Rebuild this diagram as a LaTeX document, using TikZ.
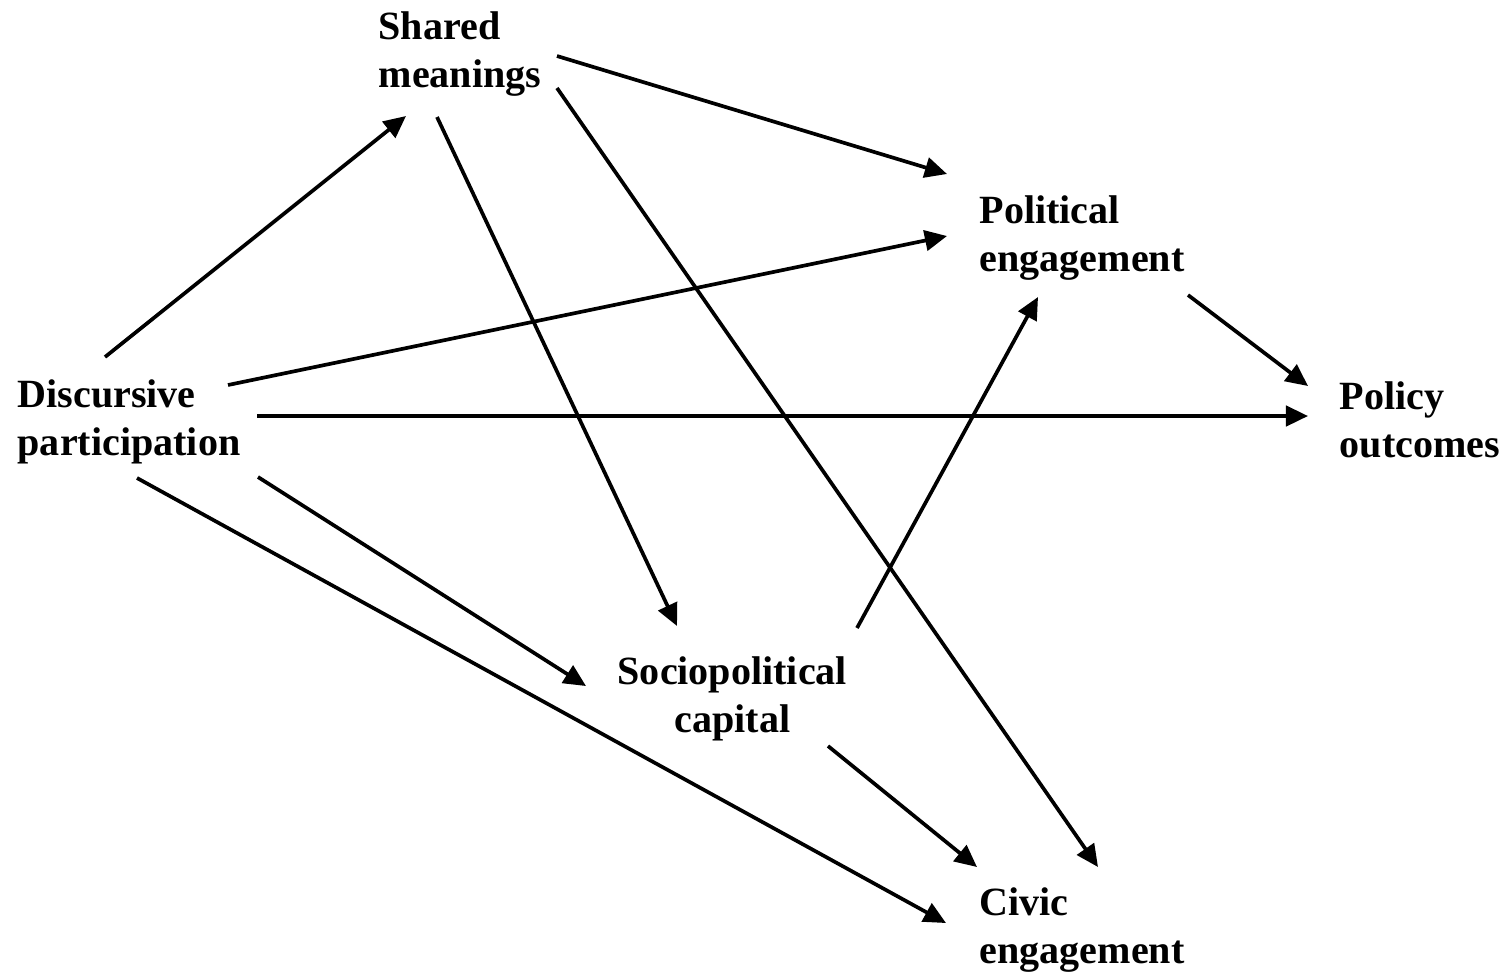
\documentclass[tikz,border=0pt]{standalone}
\usepackage{fontspec}
\setmainfont{Liberation Serif}
\usetikzlibrary{arrows.meta}
\tikzstyle{lbl}=[font=\fontsize{11.4}{13.4}\selectfont\bfseries,align=left,inner sep=0pt,anchor=base west]
\tikzstyle{arr}=[-{Triangle[length=6.3pt,width=5.8pt]},line width=1.05pt]

\begin{document}
\begin{tikzpicture}[x=0.1mm,y=-0.1mm]
\useasboundingbox (0,0) rectangle (1506,974);
% factors (placed at the baseline of the last line)
\node[lbl] (disc) at (17,455) {Discursive\\participation};
\node[lbl] (shared) at (378,87) {Shared\\meanings};
\node[lbl] (polit) at (979,271) {Political\\engagement};
\node[lbl] (policy) at (1339,457) {Policy\\outcomes};
\node[lbl,align=center] (socio) at (617,732) {Sociopolitical\\capital};
\node[lbl] (civic) at (979,963) {Civic\\engagement};
% paths
\draw[arr] ([shift={(88,-98)}]disc.base west) -- ([shift={(28,29)}]shared.base west);
\draw[arr] ([shift={(179,-31)}]shared.base west) -- ([shift={(-32,-97)}]polit.base west);
\draw[arr] ([shift={(59,30)}]shared.base west) -- ([shift={(60,-106)}]socio.base west);
\draw[arr] ([shift={(179,1)}]shared.base west) -- ([shift={(119,-96)}]civic.base west);
\draw[arr] ([shift={(211,-70)}]disc.base west) -- ([shift={(-32,-35)}]polit.base west);
\draw[arr] ([shift={(240,-39)}]disc.base west) -- ([shift={(-31,-41)}]policy.base west);
\draw[arr] ([shift={(241,22)}]disc.base west) -- ([shift={(-31,-46)}]socio.base west);
\draw[arr] ([shift={(120,23)}]disc.base west) -- ([shift={(-33,-40)}]civic.base west);
\draw[arr] ([shift={(209,24)}]polit.base west) -- ([shift={(-31,-71)}]policy.base west);
\draw[arr] ([shift={(240,-104)}]socio.base west) -- ([shift={(59,26)}]polit.base west);
\draw[arr] ([shift={(211,14)}]socio.base west) -- ([shift={(-2,-96)}]civic.base west);
\end{tikzpicture}
\end{document}
